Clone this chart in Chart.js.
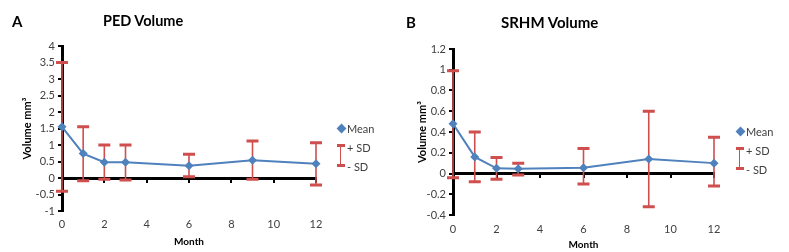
<!DOCTYPE html>
<html><head><meta charset="utf-8">
<script src="https://cdn.jsdelivr.net/npm/chart.js@4"></script>
<style>
body{margin:0;width:789px;height:252px;position:relative;background:#fff;overflow:hidden;font-family:Lato,sans-serif}
canvas{position:absolute;top:0}
.t{position:absolute;font-weight:bold;color:#000;white-space:nowrap;line-height:1}
.lg{position:absolute;font-size:11px;color:#404040;white-space:nowrap;line-height:1}
.dia{position:absolute;width:7px;height:7px;background:#4F81BD;transform:rotate(45deg)}
.eb{position:absolute;width:8px;border-top:3px solid #CF4E4E;border-bottom:3px solid #CF4E4E}
.eb:after{content:"";position:absolute;left:3px;top:0;bottom:0;border-left:1.5px solid #CF4E4E}
</style></head>
<body>
<canvas id="a" width="395" height="252" style="left:0"></canvas>
<canvas id="b" width="394" height="252" style="left:395px"></canvas>

<div class="t" style="left:12px;top:14px;font-size:15px">A</div>
<div class="t" style="left:103px;top:14px;font-size:14.5px">PED Volume</div>
<div class="t" style="left:406px;top:15px;font-size:15px">B</div>
<div class="t" style="left:501px;top:15px;font-size:15px">SRHM Volume</div>

<div class="dia" style="left:338px;top:125px"></div>
<div class="lg" style="left:347px;top:123px">Mean</div>
<div class="eb" style="left:337px;top:144px;height:17px"></div>
<div class="lg" style="left:347px;top:142px">+ SD</div>
<div class="lg" style="left:347px;top:161px">- SD</div>

<div class="dia" style="left:737px;top:128px"></div>
<div class="lg" style="left:746px;top:126px">Mean</div>
<div class="eb" style="left:736px;top:147px;height:17px"></div>
<div class="lg" style="left:746px;top:145px">+ SD</div>
<div class="lg" style="left:746px;top:164px">- SD</div>

<script>
const months = [0, 1, 2, 3, 6, 9, 12];
const pedMean = [1.55, 0.74, 0.48, 0.48, 0.37, 0.54, 0.43];
const pedPlusSD = [3.5, 1.55, 1.0, 1.0, 0.72, 1.12, 1.07];
const pedMinusSD = [-0.40, -0.08, -0.04, -0.06, 0.04, -0.04, -0.21];
const srhmMean = [0.48, 0.16, 0.05, 0.045, 0.055, 0.14, 0.10];
const srhmPlusSD = [0.99, 0.40, 0.155, 0.10, 0.24, 0.60, 0.35];
const srhmMinusSD = [-0.04, -0.08, -0.055, -0.015, -0.10, -0.32, -0.12];
const xTickStep = 2;
const pedYRange = [-1, 4, 0.5];
const srhmYRange = [-0.4, 1.2, 0.2];

const errorBars = {
  id: 'errorBars',
  beforeDatasetsDraw(chart, args, opts) {
    const ctx = chart.ctx, x = chart.scales.x, y = chart.scales.y;
    ctx.save();
    ctx.strokeStyle = opts.color;
    opts.xs.forEach((m, i) => {
      const px = x.getPixelForValue(m);
      const pu = y.getPixelForValue(opts.upper[i]);
      const pl = y.getPixelForValue(opts.lower[i]);
      ctx.lineWidth = 1.6;
      ctx.beginPath(); ctx.moveTo(px, pu); ctx.lineTo(px, pl); ctx.stroke();
      ctx.lineWidth = 3;
      ctx.beginPath();
      ctx.moveTo(px - 6, pu); ctx.lineTo(px + 6, pu);
      ctx.moveTo(px - 6, pl); ctx.lineTo(px + 6, pl);
      ctx.stroke();
    });
    ctx.restore();
  }
};

const font = { family: 'Lato, sans-serif', size: 11 };
const fmt = v => String(parseFloat(Number(v).toFixed(2)));

function makeChart(id, mean, upper, lower, yr, yWidth, rightPad, topPad, xHeight, xPad, titleBottom) {
  return new Chart(document.getElementById(id), {
    type: 'line',
    data: {
      datasets: [{
        data: months.map((m, i) => ({ x: m, y: mean[i] })),
        borderColor: '#4F81BD', backgroundColor: '#4F81BD',
        borderWidth: 2, pointStyle: 'rectRot', pointRadius: 4.5,
        pointBorderWidth: 0, tension: 0, clip: false
      }]
    },
    plugins: [errorBars],
    options: {
      responsive: false, animation: false,
      layout: { padding: { left: 0, right: rightPad, top: topPad, bottom: 0 } },
      plugins: {
        legend: { display: false }, tooltip: { enabled: false },
        errorBars: { xs: months, upper: upper, lower: lower, color: '#CF4E4E' }
      },
      scales: {
        x: {
          type: 'linear', min: 0, max: 12,
          ticks: { stepSize: xTickStep, color: '#404040', font: font, padding: xPad },
          grid: { display: false, drawTicks: false, tickLength: 0 }, border: { display: false },
          title: { display: true, text: 'Month', color: '#000', font: { family: 'Lato, sans-serif', size: 10, weight: 'bold' }, padding: { top: 2, bottom: titleBottom } },
          afterFit(s) { s.height = xHeight; }
        },
        x2: {
          type: 'linear', min: 0, max: 12, position: { y: 0 },
          ticks: { display: false, stepSize: xTickStep },
          grid: { display: true, drawOnChartArea: false, drawTicks: true, tickLength: 3, color: '#000', lineWidth: 2 },
          border: { display: true, color: '#000', width: 3 }
        },
        y: {
          min: yr[0], max: yr[1],
          ticks: { stepSize: yr[2], color: '#404040', font: font, padding: 3, callback: fmt },
          grid: { display: true, drawOnChartArea: false, drawTicks: true, tickLength: 4, color: '#000', lineWidth: 2 },
          border: { display: true, color: '#000', width: 3 },
          title: { display: true, text: 'Volume mm³', color: '#000', font: { family: 'Lato, sans-serif', size: 11, weight: 'bold' }, padding: { top: 21, bottom: 4 } },
          afterFit(s) { s.width = yWidth; }
        }
      }
    }
  });
}

makeChart('a', pedMean, pedPlusSD, pedMinusSD, pedYRange, 62, 79, 46, 41, 7, 4);
makeChart('b', srhmMean, srhmPlusSD, srhmMinusSD, srhmYRange, 58, 75, 49, 37, 8, 1);
</script>
</body></html>
